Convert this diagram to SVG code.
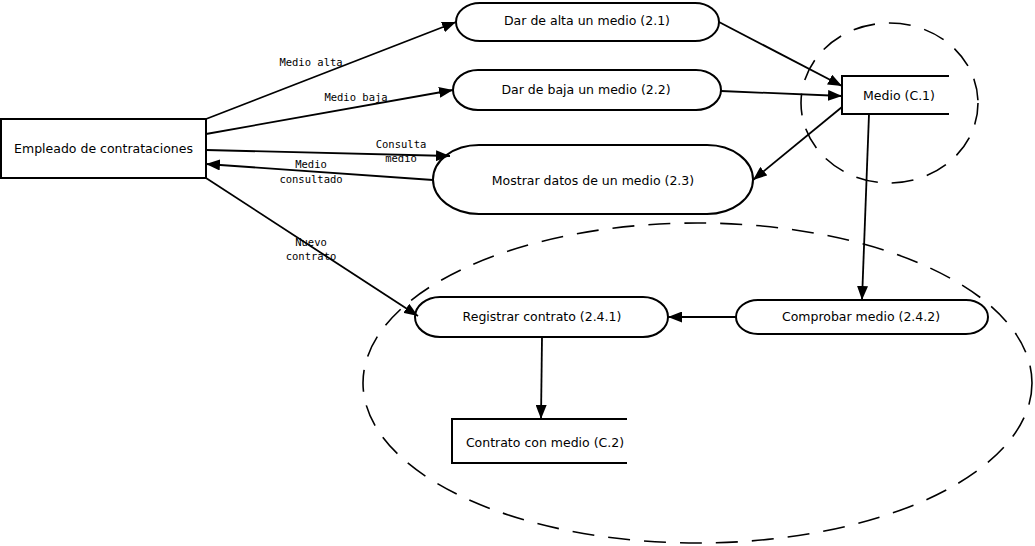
<svg xmlns="http://www.w3.org/2000/svg" width="1035" height="546" viewBox="0 0 1035 546">
  <style>
    .box { fill: #fff; stroke: #000; stroke-width: 2; }
    .edge { fill: none; stroke: #000; stroke-width: 1.8; }
    .open { fill: none; stroke: #000; stroke-width: 2; }
    .group { fill: none; stroke: #000; stroke-width: 1.6; stroke-dasharray: 22 14; }
    .lbl { font-family: "DejaVu Sans", "Liberation Sans", sans-serif; font-size: 12.5px; fill: #000; text-anchor: middle; dominant-baseline: central; }
    .elbl { font-family: "DejaVu Sans Mono", "Liberation Mono", monospace; font-size: 10.5px; fill: #000; text-anchor: middle; }
  </style>
  <defs>
    <marker id="arrow" viewBox="0 0 14 11" refX="14" refY="5.5" markerWidth="14" markerHeight="11" markerUnits="userSpaceOnUse" orient="auto">
      <path d="M0,0 L14,5.5 L0,11 Z" fill="#000"/>
    </marker>
  </defs>
  <rect width="1035" height="546" fill="#fff"/>

  <!-- grouping boundaries -->
  <g id="groups">
    <ellipse class="group" cx="889.5" cy="103" rx="88.5" ry="80"/>
    <ellipse class="group" cx="697.5" cy="383" rx="334.5" ry="160"/>
  </g>

  <!-- external entity -->
  <g id="empleado">
    <rect class="box" x="1" y="119" width="205" height="59"/>
    <text class="lbl" x="103.5" y="148">Empleado de contrataciones</text>
  </g>

  <!-- processes -->
  <g id="p2-1">
    <rect class="box" x="456" y="3" width="263" height="38" rx="24" ry="19"/>
    <text class="lbl" x="587" y="20">Dar de alta un medio (2.1)</text>
  </g>
  <g id="p2-2">
    <rect class="box" x="453" y="70" width="268" height="40" rx="25" ry="20"/>
    <text class="lbl" x="586" y="89">Dar de baja un medio (2.2)</text>
  </g>
  <g id="p2-3">
    <rect class="box" x="433" y="145" width="320" height="69" rx="46" ry="34.5"/>
    <text class="lbl" x="593" y="180">Mostrar datos de un medio (2.3)</text>
  </g>
  <g id="p2-4-1">
    <rect class="box" x="415" y="297" width="253" height="40" rx="25" ry="20"/>
    <text class="lbl" x="542" y="316">Registrar contrato (2.4.1)</text>
  </g>
  <g id="p2-4-2">
    <rect class="box" x="736" y="300" width="252" height="34" rx="22" ry="17"/>
    <text class="lbl" x="861" y="316">Comprobar medio (2.4.2)</text>
  </g>

  <!-- data stores (open on the right) -->
  <g id="c1">
    <path class="open" d="M949,76 H842 V114 H949"/>
    <text class="lbl" x="899" y="95">Medio (C.1)</text>
  </g>
  <g id="c2">
    <path class="open" d="M627,419 H452 V463 H627"/>
    <text class="lbl" x="545" y="442">Contrato con medio (C.2)</text>
  </g>

  <!-- data flows -->
  <g id="connectors">
    <line class="edge" x1="206" y1="119" x2="456" y2="22" marker-end="url(#arrow)"/>
    <line class="edge" x1="206" y1="134" x2="453" y2="90" marker-end="url(#arrow)"/>
    <line class="edge" x1="206" y1="150" x2="450" y2="156" marker-end="url(#arrow)"/>
    <line class="edge" x1="433" y1="180" x2="206" y2="164" marker-end="url(#arrow)"/>
    <line class="edge" x1="206" y1="178" x2="418" y2="316" marker-end="url(#arrow)"/>
    <line class="edge" x1="719" y1="22" x2="842" y2="86" marker-end="url(#arrow)"/>
    <line class="edge" x1="721" y1="91" x2="842" y2="96" marker-end="url(#arrow)"/>
    <line class="edge" x1="842" y1="107" x2="753" y2="180" marker-end="url(#arrow)"/>
    <line class="edge" x1="869" y1="114" x2="862" y2="300" marker-end="url(#arrow)"/>
    <line class="edge" x1="736" y1="317" x2="668" y2="317" marker-end="url(#arrow)"/>
    <line class="edge" x1="542" y1="337" x2="541" y2="419" marker-end="url(#arrow)"/>

    <text class="elbl" x="311" y="66">Medio alta</text>
    <text class="elbl" x="356" y="101">Medio baja</text>
    <text class="elbl" x="401" y="148">Consulta</text>
    <text class="elbl" x="401" y="162">medio</text>
    <text class="elbl" x="311" y="168">Medio</text>
    <text class="elbl" x="311" y="183">consultado</text>
    <text class="elbl" x="311" y="246">Nuevo</text>
    <text class="elbl" x="311" y="260">contrato</text>
  </g>
</svg>
